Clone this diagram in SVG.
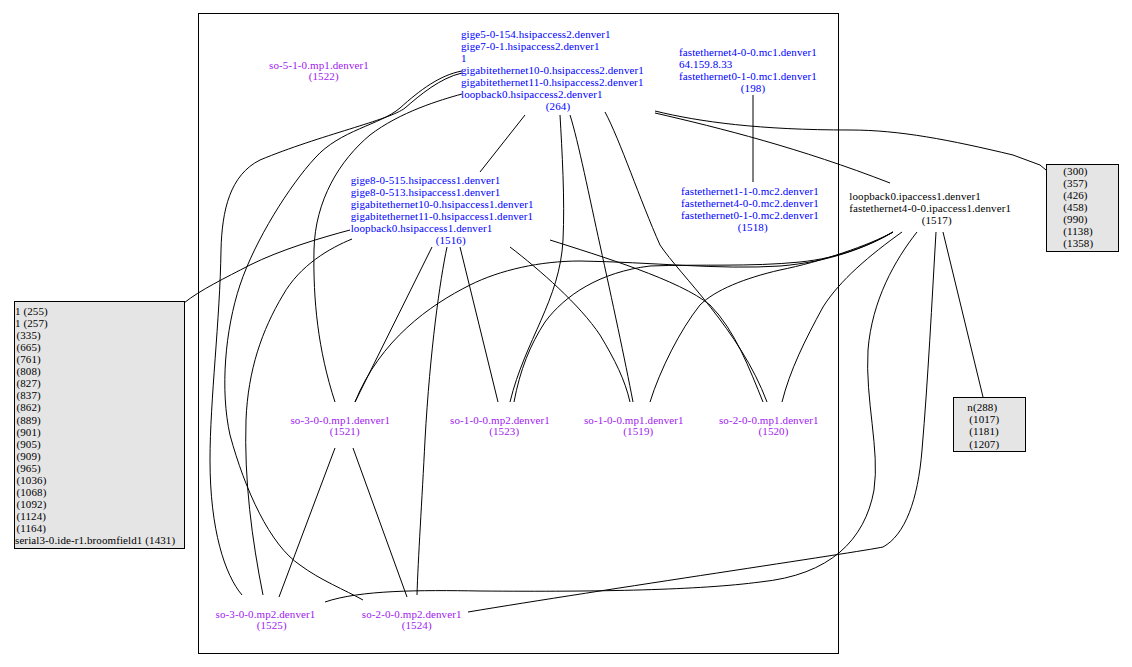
<svg xmlns="http://www.w3.org/2000/svg" width="1132" height="667" viewBox="0 0 1132 667">
<style>
text{font-family:"Liberation Serif","Times New Roman",serif;font-size:11px;letter-spacing:0.1px}
.b{fill:#0000ff}.p{fill:#a020f0}.k{fill:#000}
.m{text-anchor:middle}
.box{fill:#e5e5e5;stroke:#000;stroke-width:1}
#edges path{fill:none;stroke:#000;stroke-width:1}
</style>
<rect width="1132" height="667" fill="#fff"/>
<rect id="cluster" x="198.5" y="13.5" width="640" height="640" fill="none" stroke="#000"/>
<g id="edges">
<path d="M753,95 L753,182"/>
<path d="M655,111 C700,122 760,130 850,130 C900,130 950,140 1013,155 L1040,165 L1046,170"/>
<path d="M655,113 C720,128 800,148 890,183"/>
<path d="M525,115 L480,172"/>
<path d="M560,115 C562,150 565,200 563,240 C560,300 525,340 510,402"/>
<path d="M570,115 C578,140 590,200 600,245 C612,300 625,360 633,402"/>
<path d="M605,112 C620,140 640,200 660,245 C680,275 740,330 767,402"/>
<path d="M462,94 C440,100 400,112 370,135 C340,160 315,200 314,250 C313,300 318,350 335,402"/>
<path d="M462,73 C440,78 420,95 405,108 C390,120 320,135 260,160 C230,175 222,210 221,250 C220,320 210,400 210,460 C210,530 225,575 242,595"/>
<path d="M462,71 C440,75 420,90 400,108 C380,125 340,130 315,158 C290,185 255,240 240,285 C225,330 220,390 230,435 C245,490 270,545 300,565 C320,580 345,590 363,600"/>
<path d="M350,230 C320,238 280,250 250,265 C225,278 200,290 184,303"/>
<path d="M352,239 C330,248 300,265 283,295 C262,330 248,370 246,420 C244,480 252,540 263,595"/>
<path d="M432,247 L355,402"/>
<path d="M447,247 C440,280 430,350 425,440 C422,500 418,560 417,595"/>
<path d="M460,247 L498,402"/>
<path d="M510,247 C540,270 580,305 600,335 C615,360 625,380 630,402"/>
<path d="M550,240 C600,256 680,280 710,305 C735,330 750,370 763,402"/>
<path d="M335,448 L279,597"/>
<path d="M353,448 L407,597"/>
<path d="M943,232 L983,397"/>
<path d="M936,232 C932,300 928,380 922,450 C918,500 905,535 883,547 C860,552 600,590 468,612"/>
<path d="M917,232 C895,260 872,300 868,350 C865,400 880,450 874,490 C865,540 830,575 760,582 C700,590 600,592 480,591 C420,590 360,590 325,602"/>
<path d="M902,232 C870,255 840,280 823,307 C805,340 790,370 782,402"/>
<path d="M893,232 C870,245 820,262 780,270 C745,278 715,290 700,305 C680,330 660,370 650,402"/>
<path d="M893,232 C870,245 840,258 800,262 C750,267 700,264 650,266 C600,272 565,295 545,322 C530,345 520,370 514,402"/>
<path d="M893,232 C870,246 830,262 780,266 C720,270 650,262 580,261 C540,261 500,270 470,285 C430,305 380,340 355,402"/>
</g>
<g id="n264" class="b">
<text x="461" y="37.7">gige5-0-154.hsipaccess2.denver1</text>
<text x="461" y="49.7">gige7-0-1.hsipaccess2.denver1</text>
<text x="461" y="61.7">1</text>
<text x="461" y="73.7">gigabitethernet10-0.hsipaccess2.denver1</text>
<text x="461" y="85.7">gigabitethernet11-0.hsipaccess2.denver1</text>
<text x="461" y="97.7">loopback0.hsipaccess2.denver1</text>
<text x="558" y="109.7" class="m">(264)</text>
</g>
<g id="n198" class="b">
<text x="679" y="56">fastethernet4-0-0.mc1.denver1</text>
<text x="679" y="68">64.159.8.33</text>
<text x="679" y="80">fastethernet0-1-0.mc1.denver1</text>
<text x="753" y="92" class="m">(198)</text>
</g>
<g id="n1522" class="p">
<text x="319" y="68.7" class="m">so-5-1-0.mp1.denver1</text>
<text x="323.7" y="80.4" class="m">(1522)</text>
</g>
<g id="n1516" class="b">
<text x="350.7" y="183.7">gige8-0-515.hsipaccess1.denver1</text>
<text x="350.7" y="195.7">gige8-0-513.hsipaccess1.denver1</text>
<text x="350.7" y="207.7">gigabitethernet10-0.hsipaccess1.denver1</text>
<text x="350.7" y="219.7">gigabitethernet11-0.hsipaccess1.denver1</text>
<text x="350.7" y="231.7">loopback0.hsipaccess1.denver1</text>
<text x="450.7" y="243.7" class="m">(1516)</text>
</g>
<g id="n1518" class="b">
<text x="681" y="194.7">fastethernet1-1-0.mc2.denver1</text>
<text x="681" y="206.7">fastethernet4-0-0.mc2.denver1</text>
<text x="681" y="218.7">fastethernet0-1-0.mc2.denver1</text>
<text x="752.7" y="230.7" class="m">(1518)</text>
</g>
<g id="n1517" class="k">
<text x="849.3" y="199.7">loopback0.ipaccess1.denver1</text>
<text x="849.3" y="211.7">fastethernet4-0-0.ipaccess1.denver1</text>
<text x="936.7" y="223.9" class="m">(1517)</text>
</g>
<g id="nright" class="k">
<rect class="box" x="1046.5" y="164.5" width="72" height="87"/>
<text x="1063.3" y="175.4">(300)</text>
<text x="1063.3" y="187.4">(357)</text>
<text x="1063.3" y="199.4">(426)</text>
<text x="1063.3" y="211.4">(458)</text>
<text x="1063.3" y="223.4">(990)</text>
<text x="1063.3" y="235.4">(1138)</text>
<text x="1063.3" y="247.4">(1358)</text>
</g>
<g id="nleft" class="k">
<rect class="box" x="14.5" y="301.5" width="170" height="247"/>
<text x="15" y="314.7">1 (255)</text>
<text x="15" y="326.8">1 (257)</text>
<text x="16.5" y="338.9">(335)</text>
<text x="16.5" y="351">(665)</text>
<text x="16.5" y="363.1">(761)</text>
<text x="16.5" y="375.1">(808)</text>
<text x="16.5" y="387.2">(827)</text>
<text x="16.5" y="399.3">(837)</text>
<text x="16.5" y="411.4">(862)</text>
<text x="16.5" y="423.5">(889)</text>
<text x="16.5" y="435.6">(901)</text>
<text x="16.5" y="447.7">(905)</text>
<text x="16.5" y="459.8">(909)</text>
<text x="16.5" y="471.9">(965)</text>
<text x="16.5" y="484">(1036)</text>
<text x="16.5" y="496">(1068)</text>
<text x="16.5" y="508.1">(1092)</text>
<text x="16.5" y="520.2">(1124)</text>
<text x="16.5" y="532.3">(1164)</text>
<text x="15" y="544.4">serial3-0.ide-r1.broomfield1 (1431)</text>
</g>
<g id="nn288" class="k">
<rect class="box" x="953.5" y="397.5" width="72" height="54"/>
<text x="967.3" y="411">n(288)</text>
<text x="969.3" y="423.2">(1017)</text>
<text x="969.3" y="435.4">(1181)</text>
<text x="969.3" y="447.6">(1207)</text>
</g>
<g id="n1521" class="p">
<text x="340.3" y="423.7" class="m">so-3-0-0.mp1.denver1</text>
<text x="344.7" y="435.4" class="m">(1521)</text>
</g>
<g id="n1523" class="p">
<text x="500" y="423.7" class="m">so-1-0-0.mp2.denver1</text>
<text x="504.2" y="435.4" class="m">(1523)</text>
</g>
<g id="n1519" class="p">
<text x="633.8" y="423.7" class="m">so-1-0-0.mp1.denver1</text>
<text x="638.3" y="435.4" class="m">(1519)</text>
</g>
<g id="n1520" class="p">
<text x="768.8" y="423.7" class="m">so-2-0-0.mp1.denver1</text>
<text x="773.5" y="435.4" class="m">(1520)</text>
</g>
<g id="n1525" class="p">
<text x="265.5" y="617.7" class="m">so-3-0-0.mp2.denver1</text>
<text x="271.7" y="629.4" class="m">(1525)</text>
</g>
<g id="n1524" class="p">
<text x="411.7" y="617.7" class="m">so-2-0-0.mp2.denver1</text>
<text x="416.7" y="629.4" class="m">(1524)</text>
</g>
</svg>
